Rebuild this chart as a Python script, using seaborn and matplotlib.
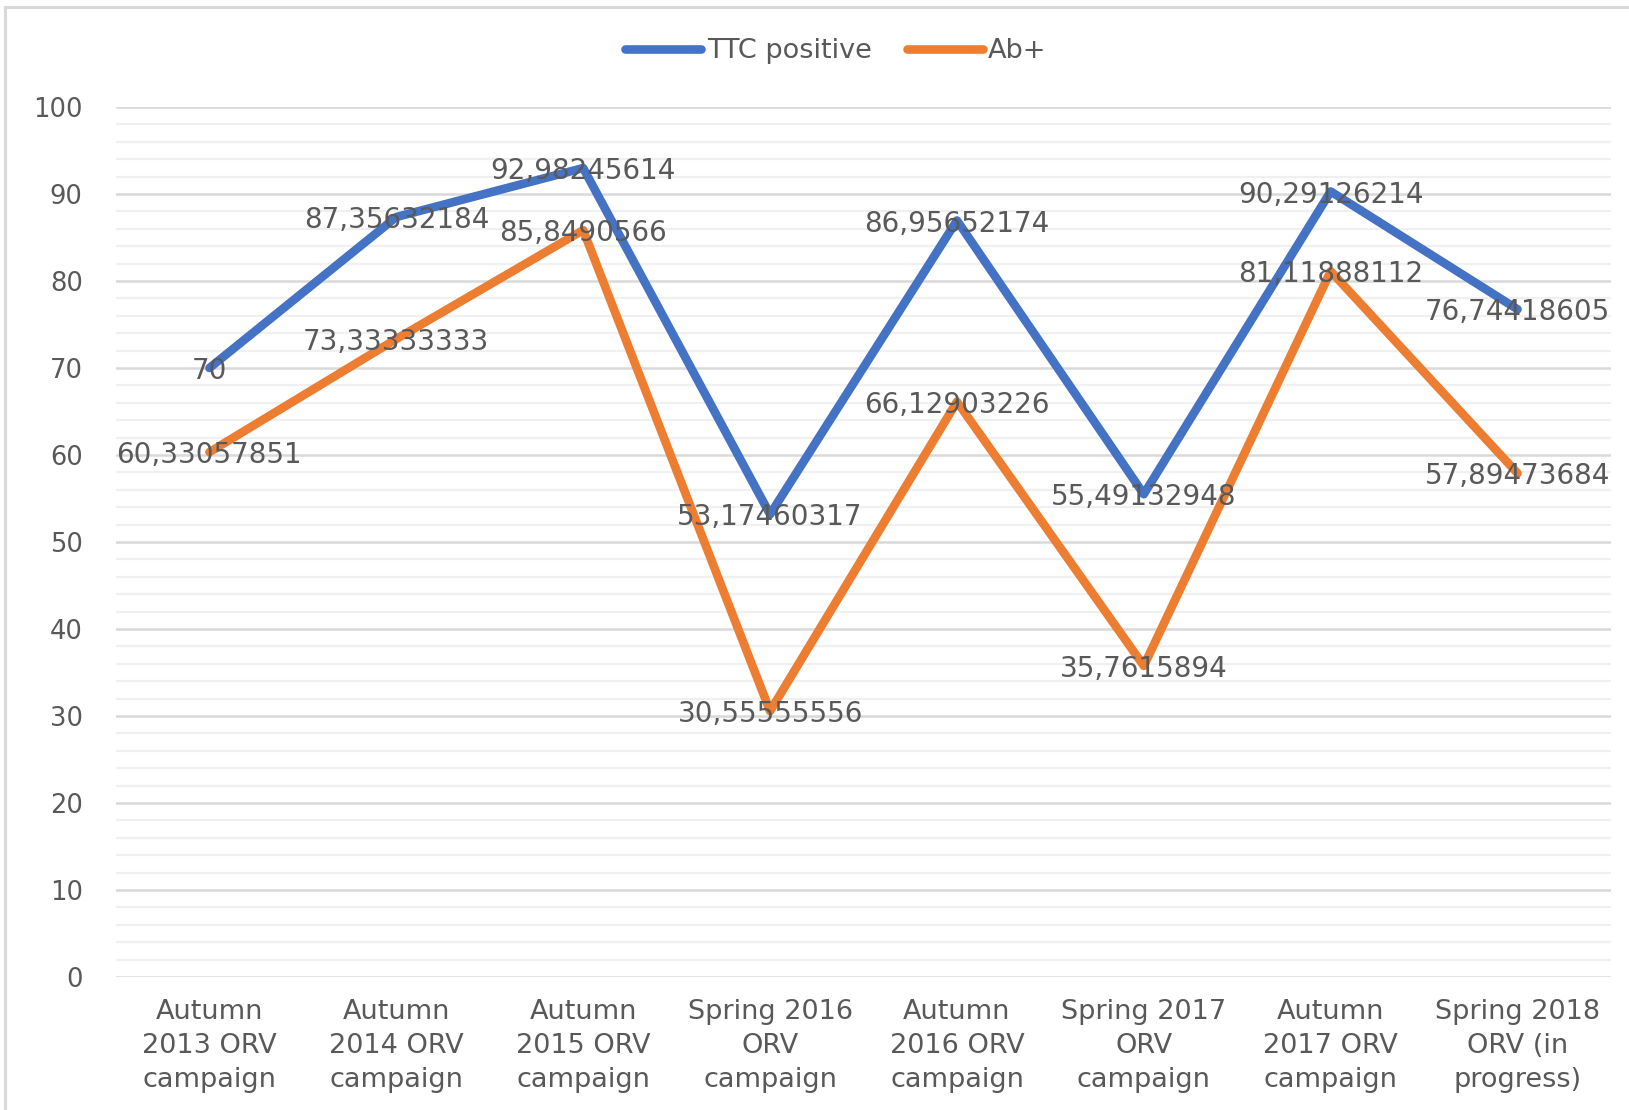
import matplotlib
matplotlib.use("Agg")
import matplotlib.pyplot as plt
import matplotlib.transforms as mtransforms
import seaborn as sns
import pandas as pd
import numpy as np
from matplotlib.patches import Rectangle
from matplotlib.lines import Line2D

categories = [
    "Autumn\n2013 ORV\ncampaign",
    "Autumn\n2014 ORV\ncampaign",
    "Autumn\n2015 ORV\ncampaign",
    "Spring 2016\nORV\ncampaign",
    "Autumn\n2016 ORV\ncampaign",
    "Spring 2017\nORV\ncampaign",
    "Autumn\n2017 ORV\ncampaign",
    "Spring 2018\nORV (in\nprogress)",
]
ttc_positive = [70, 87.35632184, 92.98245614, 53.17460317, 86.95652174, 55.49132948, 90.29126214, 76.74418605]
ab_plus = [60.33057851, 73.33333333, 85.8490566, 30.55555556, 66.12903226, 35.7615894, 81.11888112, 57.89473684]
series_names = ["TTC positive", "Ab+"]
y_ticks = list(range(0, 101, 10))

colors = {"TTC positive": "#4472C4", "Ab+": "#ED7D31"}
text_color = "#595959"

sns.set_theme(style="white")
plt.rcParams["font.family"] = ["DejaVu Sans"]

df = pd.concat([
    pd.DataFrame({"pos": np.arange(len(categories)), "value": ttc_positive, "series": series_names[0]}),
    pd.DataFrame({"pos": np.arange(len(categories)), "value": ab_plus, "series": series_names[1]}),
])

fig = plt.figure(figsize=(16.29, 11.10), dpi=100)
ax = fig.add_axes([116 / 1629, 1 - 977 / 1110, (1611 - 116) / 1629, (977 - 107) / 1110])

sns.lineplot(data=df, x="pos", y="value", hue="series", palette=colors, hue_order=series_names,
             sort=False, linewidth=6.2, ax=ax, legend=False, zorder=3,
             solid_capstyle="round", solid_joinstyle="round")

ax.set_xlim(-0.5, len(categories) - 0.5)
ax.set_ylim(0, 100)
ax.set_yticks(y_ticks)
ax.set_xticks(np.arange(len(categories)))
ax.set_xticklabels(categories, fontsize=19.5, color=text_color, linespacing=1.4)
ax.set_yticklabels([str(t) for t in y_ticks], fontsize=18.5, color=text_color)
ax.tick_params(axis="y", which="both", length=0, pad=24)
ax.tick_params(axis="x", which="both", length=0, pad=16)
ax.grid(False)
for t in range(0, 101, 2):
    if t % 10 == 0:
        ax.axhline(t, color="#D9D9D9", lw=1.8, zorder=1)
    else:
        ax.axhline(t, color="#F0F0F0", lw=1.6, zorder=0.9)
ax.set_xlabel("")
ax.set_ylabel("")
for s in ax.spines.values():
    s.set_visible(False)


def fmt(v):
    return f"{v:.10g}".replace(".", ",")


label_tr = mtransforms.offset_copy(ax.transData, fig=fig, x=0, y=-2.2, units="points")
for vals in (ttc_positive, ab_plus):
    for i, v in enumerate(vals):
        ax.text(i, v, fmt(v), ha="center", va="center", fontsize=20, color=text_color, zorder=5,
                transform=label_tr)

handles = [Line2D([0], [0], color=colors[n], lw=6.2, solid_capstyle="round") for n in series_names]
leg = fig.legend(handles, series_names, loc="center", bbox_to_anchor=(836 / 1629, 1 - 51 / 1110),
                 ncol=2, frameon=False, fontsize=19.5, handlelength=2.8, handletextpad=0.2,
                 columnspacing=1.3)
for t in leg.get_texts():
    t.set_color(text_color)

fig.patches.append(Rectangle((5 / 1629, -0.01), 1.05, 1 - 7 / 1110 + 0.01, transform=fig.transFigure,
                             fill=False, edgecolor="#D9D9D9", lw=2.2))

fig.savefig("out.png", dpi=100)
